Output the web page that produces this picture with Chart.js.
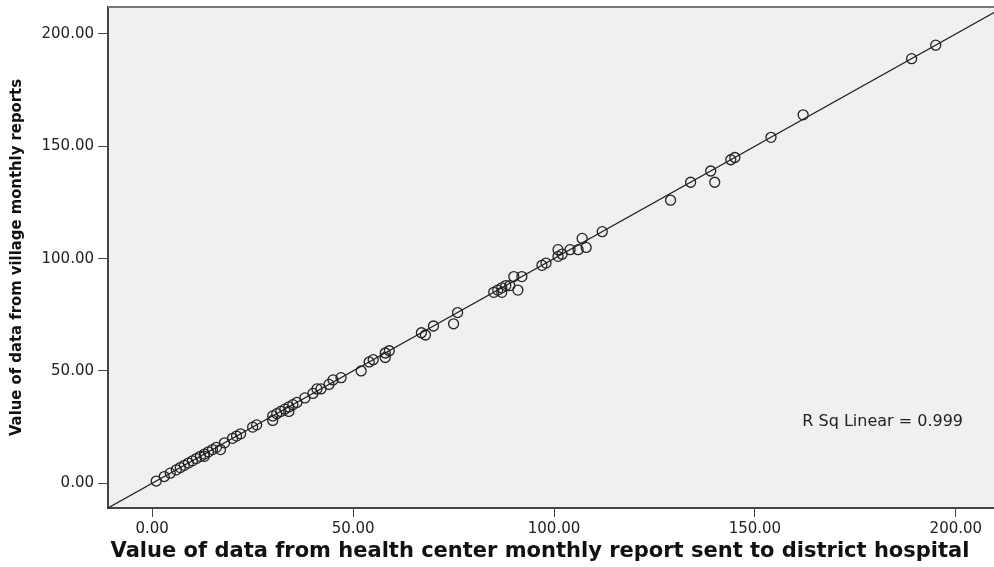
<!DOCTYPE html>
<html>
<head>
<meta charset="utf-8">
<script src="https://cdn.jsdelivr.net/npm/chart.js@4.4.1/dist/chart.umd.min.js"></script>
<style>
  html, body { margin: 0; padding: 0; background: #ffffff; }
  #wrap { width: 994px; height: 567px; position: relative; }
</style>
</head>
<body>
<div id="wrap"><canvas id="scatterChart"></canvas></div>
<script>
// health center report values (x) and village report values (y)
const healthCenterValues = [
  1, 3, 4.5, 6, 7, 8, 9, 10, 11, 12, 13, 13, 14, 15, 16, 17, 18,
  20, 21, 22, 25, 26,
  30, 30, 31, 32, 33, 34, 34, 35, 36, 38, 40, 41, 42, 44, 45, 47,
  52, 54, 55, 58, 58, 59,
  67, 68, 70, 75, 76,
  85, 86, 87, 87, 88, 89, 91, 90, 92,
  97, 98, 101, 101, 102, 104, 106, 107, 108, 112,
  129, 134, 139, 140, 144, 145, 154, 162, 189, 195
];
const villageValues = [
  1, 3, 4.5, 6, 7, 8, 9, 10, 11, 12, 12, 13, 14, 15, 16, 15, 18,
  20, 21, 22, 25, 26,
  28, 30, 31, 32, 33, 32, 34, 35, 36, 38, 40, 42, 42, 44, 46, 47,
  50, 54, 55, 56, 58, 59,
  67, 66, 70, 71, 76,
  85, 86, 87, 85, 88, 88, 86, 92, 92,
  97, 98, 101, 104, 102, 104, 104, 109, 105, 112,
  126, 134, 139, 134, 144, 145, 154, 164, 189, 195
];
const xTicks = [0, 50, 100, 150, 200];
const yTicks = [0, 50, 100, 150, 200];
const xMin = -11, xMax = 209.5;
const yMin = -11, yMax = 212;
const fitSlope = 1.0, fitIntercept = 0.0;
const rSquared = 0.999;
const xTitle = 'Value of data from health center monthly report sent to district hospital';
const yTitle = 'Value of data from village monthly reports';

const points = healthCenterValues.map((x, i) => ({ x: x, y: villageValues[i] }));
const fitLine = [xMin, xMax].map(x => ({ x: x, y: fitSlope * x + fitIntercept }));

// gray plot background, top frame line, x title and the R² note
const plotFrame = {
  id: 'plotFrame',
  beforeDraw(chart) {
    const { ctx, chartArea: a } = chart;
    ctx.save();
    ctx.fillStyle = '#f0f0f0';
    ctx.fillRect(a.left, a.top, a.right - a.left, a.bottom - a.top);
    ctx.restore();
  },
  afterDraw(chart) {
    const { ctx, chartArea: a } = chart;
    ctx.save();
    ctx.strokeStyle = '#777';
    ctx.lineWidth = 2;
    ctx.beginPath();
    ctx.moveTo(a.left, a.top);
    ctx.lineTo(a.right, a.top);
    ctx.stroke();

    ctx.fillStyle = '#222';
    ctx.font = '16px "DejaVu Sans", sans-serif';
    ctx.textBaseline = 'middle';
    ctx.textAlign = 'right';
    ctx.fillText('R Sq Linear = ' + rSquared.toFixed(3), a.right - 31, 422);

    // SPSS centres the x title on the whole figure, slightly left of the plot centre
    ctx.fillStyle = '#111';
    ctx.font = 'bold 21px "DejaVu Sans", sans-serif';
    ctx.textAlign = 'center';
    ctx.fillText(xTitle, 540, 552);
    ctx.restore();
  }
};

const tickFont = { family: '"DejaVu Sans", sans-serif', size: 15 };

new Chart(document.getElementById('scatterChart'), {
  type: 'scatter',
  data: {
    datasets: [
      {
        data: points,
        pointStyle: 'circle',
        pointRadius: 5,
        pointBorderWidth: 1.3,
        pointBorderColor: '#222',
        pointBackgroundColor: 'rgba(0,0,0,0)'
      },
      {
        type: 'line',
        data: fitLine,
        showLine: true,
        borderColor: '#222',
        borderWidth: 1.2,
        pointRadius: 0,
        fill: false
      }
    ]
  },
  options: {
    responsive: true,
    maintainAspectRatio: false,
    animation: false,
    layout: { autoPadding: false, padding: { top: 7, left: 0, right: 0, bottom: 0 } },
    plugins: {
      legend: { display: false },
      tooltip: { enabled: false }
    },
    scales: {
      x: {
        type: 'linear',
        min: xMin,
        max: xMax,
        afterBuildTicks: axis => { axis.ticks = xTicks.map(v => ({ value: v })); },
        afterFit: axis => {
          axis.height = 59;
          axis.paddingLeft = 0;
          axis.paddingRight = 0;
        },
        ticks: {
          color: '#222',
          font: tickFont,
          padding: 3,
          maxRotation: 0,
          callback: v => v.toFixed(2)
        },
        grid: { drawOnChartArea: false, drawTicks: true, tickLength: 9, color: '#444' },
        border: { color: '#444', width: 2 },
        title: { display: false }
      },
      y: {
        type: 'linear',
        min: yMin,
        max: yMax,
        afterBuildTicks: axis => { axis.ticks = yTicks.map(v => ({ value: v })); },
        afterFit: axis => {
          axis.width = 108;
          axis.paddingTop = 0;
          axis.paddingBottom = 0;
        },
        ticks: {
          color: '#222',
          font: tickFont,
          padding: 4,
          callback: v => v.toFixed(2)
        },
        grid: { drawOnChartArea: false, drawTicks: true, tickLength: 10, color: '#444' },
        border: { color: '#444', width: 2 },
        title: {
          display: true,
          text: yTitle,
          color: '#111',
          font: { family: '"Liberation Sans Narrow", "DejaVu Sans Condensed", sans-serif', size: 16.5, weight: 'bold' },
          padding: { top: 7, bottom: 0 }
        }
      }
    }
  },
  plugins: [plotFrame]
});
</script>
</body>
</html>
